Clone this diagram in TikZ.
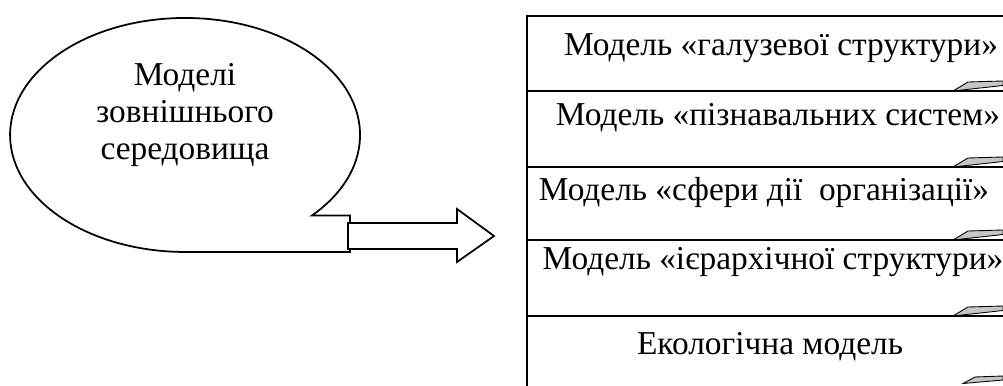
\documentclass[tikz,border=0pt]{standalone}
\usepackage{fontspec}
\setmainfont{Liberation Serif}
\begin{document}
\begin{tikzpicture}[x=0.02cm, y=0.02cm, line width=1pt,
  txt/.style={font=\fontsize{19}{21}\selectfont, inner sep=0pt, align=center},
  fold/.style={fill=gray!45, draw=black, line width=0.5pt}]

  \clip (0,0) rectangle (1003,385);

  % --- oval ---
  \coordinate (notch) at (312,169.5);
  \draw[fill=white] (notch) arc[start angle=-43.5, end angle=270, x radius=175, y radius=117]
    -- (350,133) -- (350,169.5) -- cycle;
  \node[txt] (env) at (185,270) {Моделі\\зовнішнього\\середовища};

  % --- block arrow ---
  \coordinate (tail) at (348,149);
  \coordinate (tip) at (494,149);
  \draw[fill=white] ([yshift=13*0.02cm]tail) -- ++(109,0) -- ++(0,14) -- (tip)
    -- ++(-37,-26) -- ++(0,13) -- ([yshift=-13*0.02cm]tail) -- cycle;

  % --- model 1 ---
  \draw (527,369) rectangle (1010,294);
  \node[txt] (m1) at (781,337) {Модель «галузевої структури»};
  \draw[fold] (953,294) -- (968,303) -- (1003,304) -- (1003,299.5) -- cycle;

  % --- model 2 ---
  \draw (527,294) rectangle (1010,218);
  \node[txt] (m2) at (778,267) {Модель «пізнавальних систем»};
  \draw[fold] (953,218) -- (968,227) -- (1003,228) -- (1003,223.5) -- cycle;

  % --- model 3 ---
  \draw (527,218) rectangle (1010,145);
  \node[txt] (m3) at (764,193) {Модель «сфери дії\ \ організації»};
  \draw[fold] (953,145) -- (968,154) -- (1003,155) -- (1003,150.5) -- cycle;

  % --- model 4 ---
  \draw (527,145) rectangle (1010,69);
  \node[txt] (m4) at (773,123) {Модель «ієрархічної структури»};
  \draw[fold] (953,69) -- (968,78) -- (1003,79) -- (1003,74.5) -- cycle;

  % --- model 5 ---
  \draw (527,69) rectangle (1010,-10);
  \node[txt] (m5) at (770,38) {Екологічна модель};
  \draw[fold] (963,1.5) -- (975,8) -- (1003,9) -- (1003,5) -- cycle;

\end{tikzpicture}
\end{document}
